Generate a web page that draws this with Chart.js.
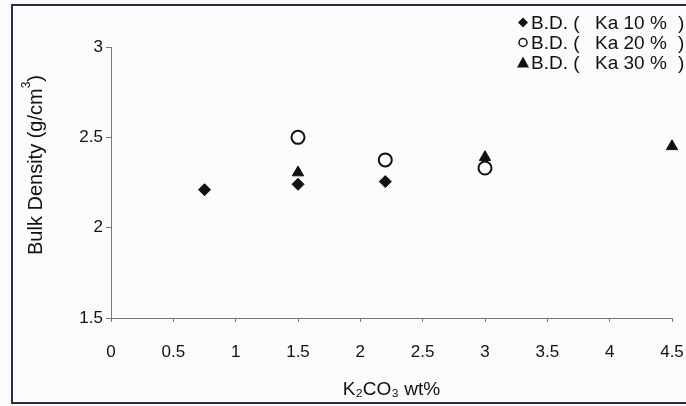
<!DOCTYPE html>
<html>
<head>
<meta charset="utf-8">
<script src="https://cdn.jsdelivr.net/npm/chart.js@4.4.1/dist/chart.umd.min.js"></script>
<style>
  body { margin: 0; background: #fbfbfb; overflow: hidden; }
  #box { width: 686px; height: 406px; }
</style>
</head>
<body>
<div id="box"><canvas id="grafico" width="686" height="406"></canvas></div>
<script>
// dati
const xKa10 = [0.75, 1.5, 2.2];
const yKa10 = [2.21, 2.24, 2.255];
const xKa20 = [1.5, 2.2, 3];
const yKa20 = [2.5, 2.375, 2.33];
const xKa30 = [1.5, 3, 4.5];
const yKa30 = [2.305, 2.39, 2.45];
const etichette = ["Ka 10 %", "Ka 20 %", "Ka 30 %"];

function punti(xs, ys) {
    return xs.map((x, i) => ({ x: x, y: ys[i] }));
}

const font = "Liberation Sans, Arial, sans-serif";

// cornice, titolo asse y e legenda disegnati a mano
const cornice = {
    id: "cornice",
    beforeDraw(chart) {
        const c = chart.ctx;
        c.save();
        c.fillStyle = "#fbfbfb";
        c.fillRect(0, 0, chart.width, chart.height);
        c.strokeStyle = "#2c2c44";
        c.lineWidth = 2;
        c.beginPath();
        c.moveTo(690, 5);
        c.lineTo(12, 5);
        c.lineTo(12, 403);
        c.lineTo(690, 403);
        c.stroke();
        c.restore();
    },
    afterDraw(chart) {
        const c = chart.ctx;
        c.save();
        // titolo asse y con apice
        c.translate(36, 165);
        c.rotate(-Math.PI / 2);
        c.fillStyle = "#111";
        c.textBaseline = "middle";
        c.font = "20px " + font;
        const t1 = "Bulk Density (g/cm";
        const w1 = c.measureText(t1).width;
        c.font = "12px " + font;
        const w2 = c.measureText("3").width;
        c.font = "20px " + font;
        const w3 = c.measureText(")").width;
        let x0 = -(w1 + w2 + w3) / 2;
        c.textAlign = "left";
        c.fillText(t1, x0, 0);
        c.font = "12px " + font;
        c.fillText("3", x0 + w1, -9);
        c.font = "20px " + font;
        c.fillText(")", x0 + w1 + w2, 0);
        c.restore();

        // legenda
        c.save();
        c.font = "19px " + font;
        c.textBaseline = "middle";
        const righe = [22.5, 42.5, 62.5];
        righe.forEach((y, i) => {
            const x = 523;
            c.fillStyle = "#111";
            c.strokeStyle = "#111";
            c.lineWidth = 1.5;
            c.beginPath();
            if (i === 0) {
                c.moveTo(x, y - 5); c.lineTo(x + 5, y); c.lineTo(x, y + 5); c.lineTo(x - 5, y);
                c.closePath(); c.fill();
            } else if (i === 1) {
                c.arc(x, y, 4, 0, Math.PI * 2); c.stroke();
            } else {
                c.moveTo(x, y - 6); c.lineTo(x + 6, y + 5); c.lineTo(x - 6, y + 5);
                c.closePath(); c.fill();
            }
            c.fillText("B.D. (", 531, y + 1);
            c.fillText(etichette[i], 595, y + 1);
            c.fillText(")", 678, y + 1);
        });
        c.restore();
    }
};

const ctx = document.getElementById("grafico").getContext("2d");
new Chart(ctx, {
    type: "scatter",
    data: {
        datasets: [
            { label: etichette[0], data: punti(xKa10, yKa10), pointStyle: "rectRot", radius: 6,
              backgroundColor: "#111", borderColor: "#111" },
            { label: etichette[1], data: punti(xKa20, yKa20), pointStyle: "circle", radius: 6.5,
              backgroundColor: "rgba(0,0,0,0)", borderColor: "#111", borderWidth: 2 },
            { label: etichette[2], data: punti(xKa30, yKa30), pointStyle: "triangle", radius: 6.5,
              backgroundColor: "#111", borderColor: "#111" }
        ]
    },
    options: {
        responsive: false,
        animation: false,
        clip: false,
        layout: { padding: { left: 0, right: 14, top: 47, bottom: 0 } },
        plugins: { legend: { display: false }, tooltip: { enabled: false } },
        scales: {
            x: {
                type: "linear", min: 0, max: 4.5,
                afterFit: s => { s.height = 88; s.paddingRight = 0; s.paddingLeft = 0; },
                ticks: { stepSize: 0.5, color: "#111", font: { family: font, size: 17 }, padding: 20,
                         callback: v => String(v) },
                grid: { display: true, drawOnChartArea: false, tickLength: 4, color: "#777" },
                border: { color: "#777", width: 1 },
                title: { display: true, text: "K₂CO₃ wt%", color: "#111",
                         font: { family: font, size: 19 }, padding: { top: 0, bottom: 5 } }
            },
            y: {
                min: 1.5, max: 3,
                afterFit: s => { s.width = 111; s.paddingTop = 0; s.paddingBottom = 0; },
                ticks: { stepSize: 0.5, color: "#111", font: { family: font, size: 17 }, padding: 3,
                         callback: v => String(v) },
                grid: { display: true, drawOnChartArea: false, tickLength: 5, color: "#777" },
                border: { color: "#777", width: 1 },
                title: { display: false }
            }
        }
    },
    plugins: [cornice]
});
</script>
</body>
</html>
